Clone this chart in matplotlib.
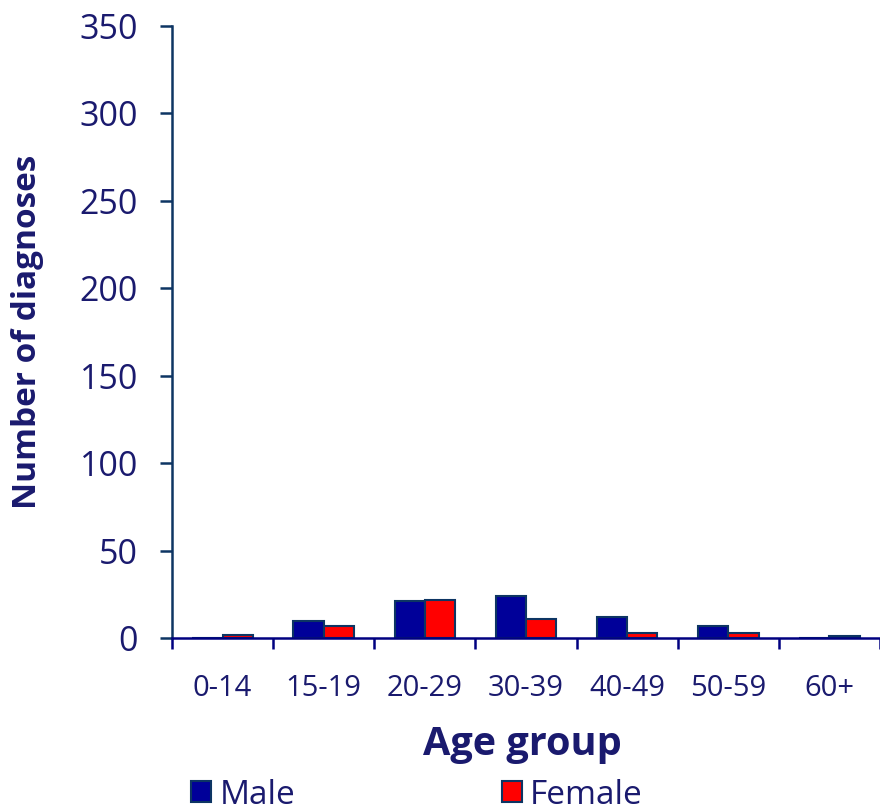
import matplotlib
matplotlib.use("Agg")
import matplotlib.pyplot as plt
import numpy as np

categories = ["0-14", "15-19", "20-29", "30-39", "40-49", "50-59", "60+"]
male = [0, 10, 21, 24, 12, 7, 0]
female = [2, 7, 22, 11, 3, 3, 1]
yticks = [0, 50, 100, 150, 200, 250, 300, 350]

TXT = "#1a1a6e"
MALE_C = "#000099"
FEMALE_C = "#ff0000"
EDGE = "#0d3563"

plt.rcParams["font.family"] = ["Open Sans", "DejaVu Sans"]

fig = plt.figure(figsize=(8.8, 8.11), dpi=100)
ax = fig.add_axes([172/880, 1-638/811, 1-172/880, (638-26)/811])

x = np.arange(len(categories))
w = 0.30
ax.bar(x - w/2, male, width=w, color=MALE_C, edgecolor=EDGE, linewidth=1.5, label="Male", zorder=3)
ax.bar(x + w/2, female, width=w, color=FEMALE_C, edgecolor=EDGE, linewidth=1.5, label="Female", zorder=3)

ax.set_xlim(-0.5, 6.45)
ax.set_ylim(0, 350)
ax.set_yticks(yticks)
ax.set_yticklabels([str(v) for v in yticks], fontsize=24.5, color=TXT)
ax.tick_params(axis="y", direction="out", length=8.5, width=1.8, color=EDGE, pad=16)

ax.set_xticks(np.arange(-0.5, 7.0, 1.0))
ax.set_xticklabels([])
ax.set_xticks(x, minor=True)
ax.set_xticklabels(categories, minor=True, fontsize=21, color=TXT)
ax.tick_params(axis="x", which="major", direction="out", length=8, width=1.8, color="#000080")
ax.tick_params(axis="x", which="minor", length=0, pad=26)

for s in ["top", "right"]:
    ax.spines[s].set_visible(False)
ax.spines["left"].set_color(EDGE)
ax.spines["left"].set_linewidth(1.8)
ax.spines["bottom"].set_color("#000080")
ax.spines["bottom"].set_linewidth(1.8)
ax.spines["bottom"].set_zorder(4)

fig.text(28/880, 1-332/811, "Number of diagnoses", rotation=90, fontsize=24,
         fontweight="bold", color=TXT, ha="center", va="center")
fig.text(522/880, 1-744/811, "Age group", fontsize=28.5, fontweight="bold",
         color=TXT, ha="center", va="center")

fig.legend(loc="center left", bbox_to_anchor=(191/880, 1-795/811), ncol=2,
           frameon=False, fontsize=24, handlelength=0.6, handleheight=0.6,
           handletextpad=0.25, columnspacing=6.2, borderpad=0, borderaxespad=0,
           labelcolor=TXT)

fig.savefig("out.png", dpi=100)
